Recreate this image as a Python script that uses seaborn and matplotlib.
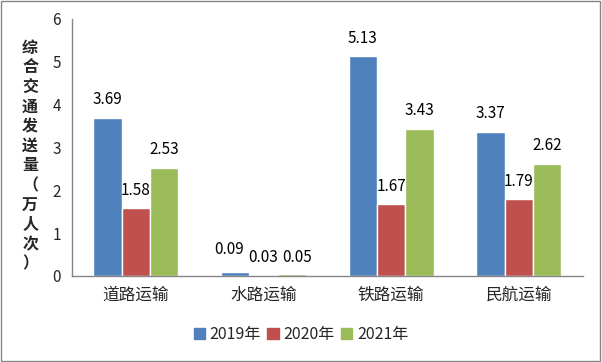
import pandas as pd
import matplotlib
matplotlib.use('Agg')
import matplotlib.pyplot as plt
import seaborn as sns
from matplotlib.patches import Rectangle

# ── Data ─────────────────────────────────────────────────────────────────────
CATEGORIES = ['道路运输', '水路运输', '铁路运输', '民航运输']
YEARS      = ['2019年', '2020年', '2021年']
V2019      = [3.69, 0.09, 5.13, 3.37]
V2020      = [1.58, 0.03, 1.67, 1.79]
V2021      = [2.53, 0.05, 3.43, 2.62]
Y_LABEL    = '综合交通发送量（万人次）'

# ── Palette ──────────────────────────────────────────────────────────────────
BLUE  = "#4F81BD"
RED   = "#C0504D"
GREEN = "#9BBB59"
AXIS  = "#868686"

df = pd.DataFrame({
    'cat': CATEGORIES * 3,
    'year': [YEARS[0]] * 4 + [YEARS[1]] * 4 + [YEARS[2]] * 4,
    'val': V2019 + V2020 + V2021,
})

sns.set_style('white')
plt.rcParams['font.family'] = ['Noto Sans CJK SC', 'DejaVu Sans']

fig = plt.figure(figsize=(6.02, 3.62), dpi=100)
ax = fig.add_axes([0.1196, 0.2376, 0.8484, 0.71])

sns.barplot(data=df, x='cat', y='val', hue='year', order=CATEGORIES,
            hue_order=YEARS, palette=[BLUE, RED, GREEN], width=0.667,
            gap=0, saturation=1, ax=ax, legend=False)

# value labels; the tiny water-transport ones are spread apart like the original
nudge = {0: (-4, 10), 1: (0, 6), 2: (4, 6)}
for k, cont in enumerate(ax.containers):
    labels = ax.bar_label(cont, fmt='%.2f', padding=7, fontsize=11, color='black')
    labels[1].xyann = nudge[k]

ax.set_ylim(0, 6)
ax.set_xlim(-0.5, 3.5)
ax.set_yticks(range(0, 7))
ax.set_xlabel('')
ax.set_ylabel('')
ax.tick_params(axis='y', length=5, color=AXIS, width=1, labelsize=11, pad=3)
ax.tick_params(axis='x', length=0, labelsize=12, pad=8)
ax.set_xticks([i - 0.5 for i in range(5)], minor=True)
ax.tick_params(axis='x', which='minor', length=5, color=AXIS, width=1)
for s in ['top', 'right']:
    ax.spines[s].set_visible(False)
for s in ['left', 'bottom']:
    ax.spines[s].set_color(AXIS)
    ax.spines[s].set_linewidth(1)

# stacked vertical y label
fig.text(0.05, 0.57, '\n'.join(Y_LABEL), ha='center', va='center',
         fontsize=11.5, fontweight='bold', linespacing=1.28)

# legend
handles = [Rectangle((0, 0), 1, 1, color=c) for c in [BLUE, RED, GREEN]]
fig.legend(handles, YEARS, loc='center', bbox_to_anchor=(0.5, 0.075), ncol=3,
           frameon=False, fontsize=11.5, handlelength=0.7, handleheight=0.7,
           handletextpad=0.3, columnspacing=0.4)

# outer border
fig.patches.append(Rectangle((0.002, 0.003), 0.995, 0.994, transform=fig.transFigure,
                             fill=False, edgecolor=AXIS, linewidth=1))

fig.savefig('out.png', dpi=100, facecolor='white')
